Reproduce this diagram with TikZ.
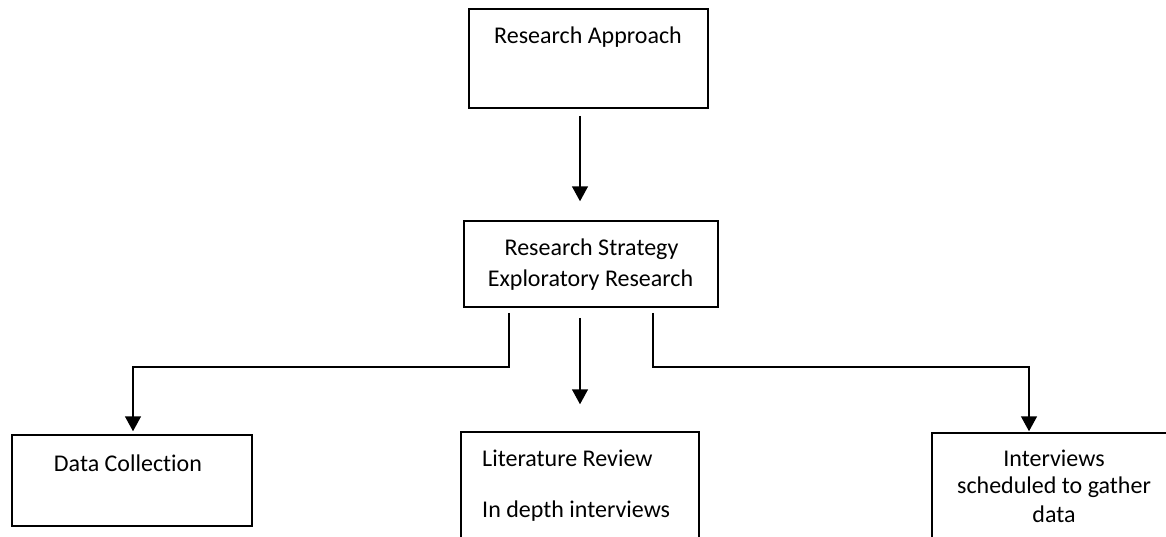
\documentclass[tikz,border=0pt]{standalone}
\usepackage{fontspec}
\setmainfont{Carlito}[Ligatures=NoCommon]
\usetikzlibrary{arrows.meta}
\begin{document}
\begin{tikzpicture}[x=1pt,y=-1pt,
  box/.style={draw,line width=1.5pt,inner sep=0pt,minimum width=#1},
  lbl/.style={anchor=base,inner sep=0pt,font=\fontsize{24}{29}\selectfont},
  arr/.style={line width=1.5pt,-{Triangle[width=16pt,length=15pt]}}]
\clip (0,0) rectangle (1166,536);
\fill[white] (0,0) rectangle (1166,536);
% boxes
\node[box=239pt,minimum height=99pt] (top) at (588.5,58.5) {};
\node[box=254pt,minimum height=86pt] (mid) at (591,264) {};
\node[box=240pt,minimum height=91pt] (dc) at (132,480.5) {};
\node[box=238pt,minimum height=140pt] (lit) at (580,502) {};
\node[box=258pt,minimum height=140pt] (int) at (1061,503) {};
% texts
\node[lbl] (t1) at (588,43) {Research Approach};
\node[lbl] (t2) at (591.5,255) {Research Strategy};
\node[lbl] (t3) at (590.5,286) {Exploratory Research};
\node[lbl] (t4) at (128,471) {Data Collection};
\node[lbl,anchor=base west] (t5) at (482,466) {Literature Review};
\node[lbl,anchor=base west] (t6) at (482,517) {In depth interviews};
\node[lbl] (t7) at (1054,466) {Interviews};
\node[lbl] (t8) at (1054,493) {scheduled to gather};
\node[lbl] (t9) at (1054,522) {data};
% connectors
\coordinate (a0) at ([shift={(-8.5,7)}]top.south);
\coordinate (a1) at ([shift={(-11,-19)}]mid.north);
\draw[arr] (a0) -- (a1);
\coordinate (b0) at ([shift={(-82,5)}]mid.south);
\coordinate (b1) at ([shift={(1,-3)}]dc.north);
\draw[arr] (b0) -- ++(0,54) -| (b1);
\coordinate (c0) at ([shift={(-11,10)}]mid.south);
\coordinate (c1) at ([shift={(0,-27)}]lit.north);
\draw[arr] (c0) -- (c1);
\coordinate (d0) at ([shift={(62,5)}]mid.south);
\coordinate (d1) at ([shift={(-32,-1)}]int.north);
\draw[arr] (d0) -- ++(0,54) -| (d1);
\end{tikzpicture}
\end{document}
